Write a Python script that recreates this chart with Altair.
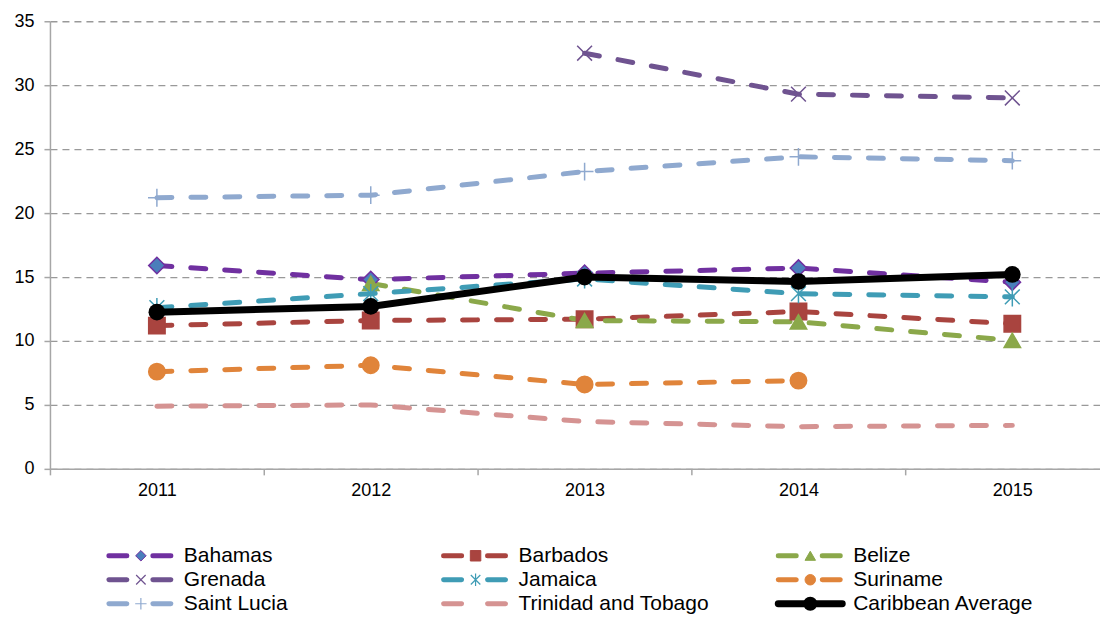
import altair as alt
import pandas as pd

# ---------------- data ----------------
years = [2011, 2012, 2013, 2014, 2015]
series_names = ["Bahamas", "Barbados", "Belize", "Grenada", "Jamaica",
                "Suriname", "Saint Lucia", "Trinidad and Tobago", "Caribbean Average"]
bahamas = [15.9, 14.8, 15.3, 15.7, 14.6]
barbados = [11.2, 11.6, 11.7, 12.3, 11.35]
belize = [None, 14.5, 11.6, 11.5, 10.05]
grenada = [None, None, 32.5, 29.3, 29.0]
jamaica = [12.6, 13.7, 14.85, 13.7, 13.45]
suriname = [7.6, 8.1, 6.6, 6.9, None]
saint_lucia = [21.2, 21.4, 23.25, 24.4, 24.1]
trinidad = [4.9, 5.0, 3.7, 3.3, 3.4]
caribbean_average = [12.25, 12.7, 15.0, 14.65, 15.2]

values_by_series = [bahamas, barbados, belize, grenada, jamaica,
                    suriname, saint_lucia, trinidad, caribbean_average]

# ---------------- styles ----------------
line_colors = ["#7030A0", "#A9443F", "#8BA84A", "#6F5390", "#3F9CB5",
               "#E0843A", "#8FA9CF", "#D59392", "#000000"]
fill_colors = ["#4A7EBB", "#A9443F", "#8BA84A", "#6F5390", "#3F9CB5",
               "#E0843A", "#8FA9CF", "#D59392", "#000000"]
X_PATH = "M-1,-1L1,1M-1,1L1,-1"
AST_PATH = "M-1,-1L1,1M-1,1L1,-1M0,-1.3L0,1.3"
PLUS_PATH = "M-1.2,0L1.2,0M0,-1.2L0,1.2"
shapes = ["diamond", "square", "triangle-up", X_PATH, AST_PATH,
          "circle", PLUS_PATH, "circle", "circle"]
filled_series = ["Bahamas", "Barbados", "Belize", "Suriname"]
stroked_series = ["Grenada", "Jamaica", "Saint Lucia"]
AVG = "Caribbean Average"

rows = []
for name, vals in zip(series_names, values_by_series):
    for yr, v in zip(years, vals):
        if v is not None:
            rows.append({"series": name, "year": yr, "value": v})
df = pd.DataFrame(rows)

leg_rows = [{"series": n, "col": i % 3, "row": i // 3} for i, n in enumerate(series_names)]
leg_df = pd.DataFrame(leg_rows)

color_scale = alt.Scale(domain=series_names, range=line_colors)
fill_scale = alt.Scale(domain=series_names, range=fill_colors)
shape_scale = alt.Scale(domain=series_names, range=shapes)

FONT = "Liberation Sans"
W, H = 1051, 448

x_vals = [2010.5, 2011, 2011.5, 2012, 2012.5, 2013, 2013.5, 2014, 2014.5, 2015]
x_enc = alt.X(
    "year:Q",
    title=None,
    scale=alt.Scale(domain=[2010.5, 2015.41], nice=False, zero=False),
    axis=alt.Axis(
        values=x_vals,
        labelExpr="datum.value % 1 == 0 ? format(datum.value, 'd') : ''",
        tickOpacity={"condition": {"test": "datum.value % 1 == 0", "value": 0}, "value": 1},
        labelOverlap=False,
        grid=False,
        tickSize=6,
        tickWidth=1.5,
        tickColor="#A6A6A6",
        domainColor="#A6A6A6",
        domainWidth=1.5,
        labelFont=FONT,
        labelFontSize=18,
        labelColor="#000000",
        labelPadding=7,
    ),
)
y_enc = alt.Y(
    "value:Q",
    title=None,
    scale=alt.Scale(domain=[0, 35], nice=False, zero=True),
    axis=alt.Axis(
        values=[0, 5, 10, 15, 20, 25, 30, 35],
        grid=True,
        gridColor="#999999",
        gridDash=[7, 5],
        gridWidth=1.3,
        tickSize=6,
        tickWidth=1.5,
        tickColor="#A6A6A6",
        domainColor="#A6A6A6",
        domainWidth=1.5,
        labelFont=FONT,
        labelFontSize=18,
        labelColor="#000000",
        labelPadding=10,
    ),
)

base = alt.Chart(df)

dashed_lines = base.transform_filter(alt.datum.series != AVG).mark_line(
    strokeDash=[15, 19], strokeCap="round", strokeWidth=5
).encode(
    x=x_enc, y=y_enc,
    color=alt.Color("series:N", scale=color_scale, legend=None),
    order=alt.Order("year:Q"),
)

filled_pts = base.transform_filter(
    alt.FieldOneOfPredicate(field="series", oneOf=filled_series)
).mark_point(filled=True, opacity=1, size=270, strokeWidth=1.5).encode(
    x="year:Q", y="value:Q",
    fill=alt.Fill("series:N", scale=fill_scale, legend=None),
    stroke=alt.Stroke("series:N", scale=color_scale, legend=None),
    shape=alt.Shape("series:N", scale=shape_scale, legend=None),
)

stroked_pts = base.transform_filter(
    alt.FieldOneOfPredicate(field="series", oneOf=stroked_series)
).mark_point(filled=False, opacity=1, size=220, strokeWidth=1.5).encode(
    x="year:Q", y="value:Q",
    stroke=alt.Stroke("series:N", scale=color_scale, legend=None),
    shape=alt.Shape("series:N", scale=shape_scale, legend=None),
)

avg_line = base.transform_filter(alt.datum.series == AVG).mark_line(
    strokeWidth=7, strokeCap="round", color="#000000"
).encode(x="year:Q", y="value:Q", order=alt.Order("year:Q"))

avg_pts = base.transform_filter(alt.datum.series == AVG).mark_point(
    filled=True, opacity=1, size=280, color="#000000", shape="circle"
).encode(x="year:Q", y="value:Q")

main = alt.layer(dashed_lines, filled_pts, stroked_pts, avg_line, avg_pts).properties(
    width=W, height=H
)

# ---------------- legend panel ----------------
COL_STEP = 335.0
LEFT = 59.0
lx = alt.X("col:Q", axis=None,
           scale=alt.Scale(domain=[-LEFT / COL_STEP, (W - LEFT) / COL_STEP], nice=False, zero=False))
ly = alt.Y("row:Q", axis=None, scale=alt.Scale(domain=[0, 2], nice=False, zero=False, reverse=True))

lbase = alt.Chart(leg_df)

leg_dash = lbase.transform_filter(alt.datum.series != AVG).mark_rule(
    strokeWidth=5, strokeCap="round", strokeDash=[18, 26], x2Offset=64
).encode(x=lx, x2=alt.X2("col"), y=ly,
         color=alt.Color("series:N", scale=color_scale, legend=None))

leg_avg = lbase.transform_filter(alt.datum.series == AVG).mark_rule(
    strokeWidth=7, strokeCap="round", color="#000000", x2Offset=64
).encode(x="col:Q", x2=alt.X2("col"), y="row:Q")

leg_filled = lbase.transform_filter(
    alt.FieldOneOfPredicate(field="series", oneOf=filled_series)
).mark_point(filled=True, opacity=1, size=110, strokeWidth=1, xOffset=32).encode(
    x="col:Q", y="row:Q",
    fill=alt.Fill("series:N", scale=fill_scale, legend=None),
    stroke=alt.Stroke("series:N", scale=color_scale, legend=None),
    shape=alt.Shape("series:N", scale=shape_scale, legend=None),
)
leg_stroked = lbase.transform_filter(
    alt.FieldOneOfPredicate(field="series", oneOf=stroked_series)
).mark_point(filled=False, opacity=1, size=90, strokeWidth=1.2, xOffset=32).encode(
    x="col:Q", y="row:Q",
    stroke=alt.Stroke("series:N", scale=color_scale, legend=None),
    shape=alt.Shape("series:N", scale=shape_scale, legend=None),
)
leg_avg_pt = lbase.transform_filter(alt.datum.series == AVG).mark_point(
    filled=True, opacity=1, size=200, color="#000000", shape="circle", xOffset=32
).encode(x="col:Q", y="row:Q")

leg_text = lbase.mark_text(
    align="left", baseline="middle", dx=75, font=FONT, fontSize=21, color="#000000"
).encode(x="col:Q", y="row:Q", text="series:N")

legend_panel = alt.layer(leg_dash, leg_avg, leg_filled, leg_stroked, leg_avg_pt, leg_text).properties(
    width=W, height=48
)

chart = alt.vconcat(main, legend_panel, spacing=45).properties(
    padding={"left": 5, "top": 4, "right": 0, "bottom": 0}
).configure_view(stroke=None).resolve_scale(
    color="shared", fill="shared", stroke="shared", shape="shared"
)

chart.save("out.html", embed_options={"renderer": "svg", "actions": False})
